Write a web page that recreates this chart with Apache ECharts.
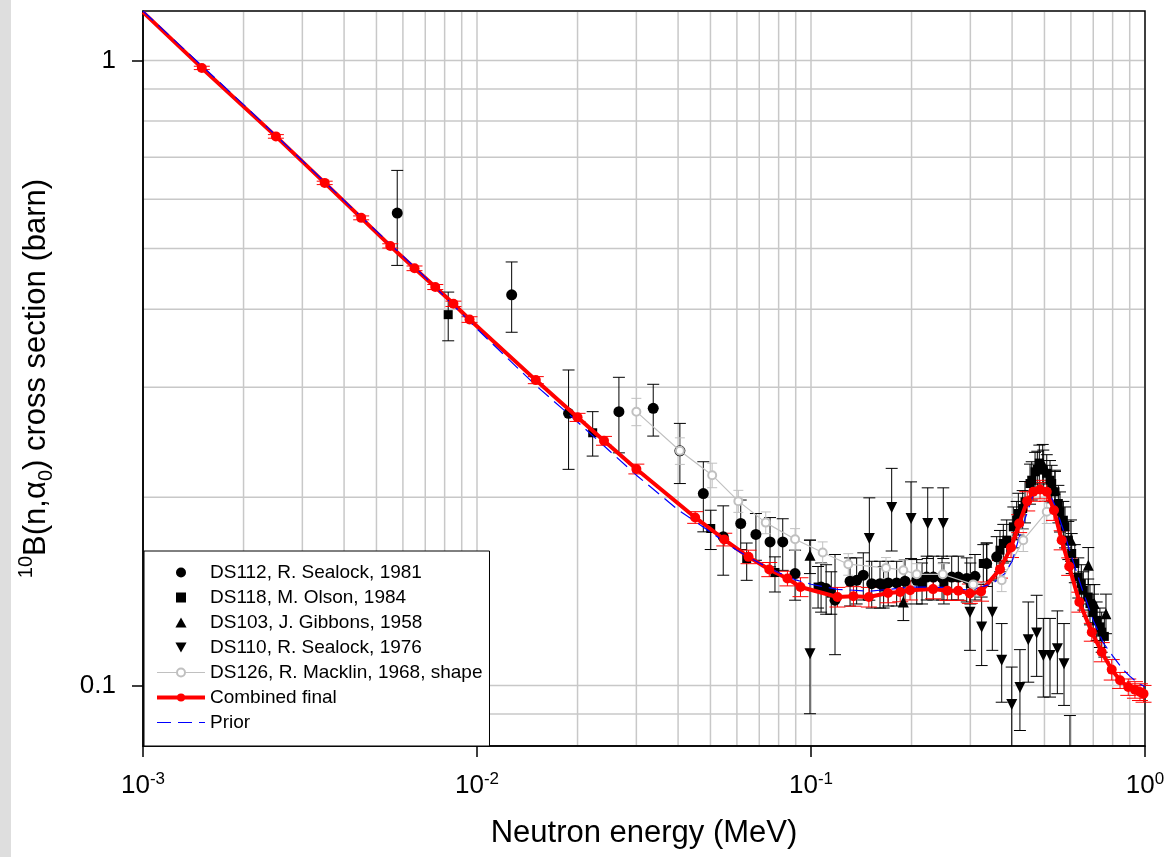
<!DOCTYPE html>
<html>
<head>
<meta charset="utf-8">
<title>10B(n,alpha0) cross section</title>
<script src="https://cdn.jsdelivr.net/npm/echarts@6.0.0/dist/echarts.min.js"></script>
<style>
  html, body { margin: 0; padding: 0; background: #fff; }
  #chart { width: 1169px; height: 857px; }
</style>
</head>
<body>
<div id="chart"></div>
<script>
// axis ranges
var xMin = 0.001, xMax = 1;
var yMin = 0.08, yMax = 1.2;
var font = 'Liberation Sans, Arial, sans-serif';

// DS112, R. Sealock, 1981 (circles)
var e112 = [0.00577, 0.0127, 0.0188, 0.0266, 0.0337, 0.0405, 0.0476, 0.0546, 0.0616, 0.0684, 0.0754, 0.0823, 0.0896, 0.1072, 0.111, 0.118, 0.1309, 0.137, 0.1434, 0.152, 0.1609, 0.1703, 0.1805, 0.1912, 0.2073, 0.222, 0.2324, 0.2468, 0.2638, 0.2761, 0.2926, 0.3097, 0.3357, 0.3597];
var s112 = [0.570, 0.4217, 0.2725, 0.2742, 0.2776, 0.2374, 0.2028, 0.1729, 0.1816, 0.1744, 0.1697, 0.1697, 0.151, 0.1437, 0.1429, 0.1369, 0.1468, 0.1473, 0.1501, 0.1455, 0.1455, 0.1459, 0.1459, 0.1468, 0.1473, 0.1491, 0.1491, 0.1487, 0.1491, 0.1491, 0.1483, 0.1495, 0.1567, 0.1606];
var lo112 = [0.470, 0.3674, 0.2217, 0.2356, 0.2506, 0.2104, 0.1761, 0.1501, 0.165, 0.1586, 0.1548, 0.1528, 0.1369, 0.131, 0.130, 0.112, 0.134, 0.135, 0.137, 0.133, 0.133, 0.134, 0.134, 0.135, 0.135, 0.137, 0.137, 0.137, 0.137, 0.137, 0.136, 0.137, 0.144, 0.148];
var hi112 = [0.667, 0.476, 0.3197, 0.3112, 0.3033, 0.2626, 0.228, 0.1938, 0.198, 0.1884, 0.1856, 0.1848, 0.1646, 0.157, 0.156, 0.162, 0.160, 0.160, 0.163, 0.158, 0.158, 0.158, 0.158, 0.159, 0.159, 0.161, 0.161, 0.161, 0.161, 0.161, 0.160, 0.162, 0.169, 0.173];

// DS118, M. Olson, 1984 (squares)
var e118 = [0.0082, 0.0222, 0.0501, 0.0642, 0.078, 0.105, 0.115, 0.165, 0.215, 0.25, 0.3, 0.328, 0.368, 0.3765, 0.3855, 0.4034, 0.4128, 0.4176, 0.4303, 0.4373, 0.4527, 0.458, 0.4686, 0.476, 0.4826, 0.4961, 0.508, 0.5195, 0.5256, 0.5376, 0.5503, 0.5565, 0.5696, 0.5761, 0.5894, 0.6033, 0.6164, 0.6314, 0.6447, 0.6536, 0.676, 0.6843, 0.6995, 0.7166, 0.7329, 0.7418, 0.7555];
var s118 = [0.392, 0.2537, 0.1783, 0.1596, 0.1516, 0.1437, 0.1405, 0.1437, 0.1455, 0.1459, 0.1455, 0.1567, 0.1646, 0.1687, 0.1708, 0.1794, 0.1838, 0.1884, 0.1919, 0.1967, 0.2104, 0.213, 0.2197, 0.2217, 0.2269, 0.2211, 0.2185, 0.213, 0.2104, 0.2041, 0.1955, 0.1896, 0.1838, 0.1794, 0.1708, 0.1626, 0.1567, 0.1491, 0.1455, 0.142, 0.1385, 0.1352, 0.131, 0.1271, 0.1241, 0.1217, 0.1198];
var lo118 = [0.356, 0.2328, 0.165, 0.1473, 0.1411, 0.133, 0.130, 0.133, 0.135, 0.135, 0.135, 0.145, 0.152, 0.157, 0.158, 0.166, 0.171, 0.174, 0.178, 0.182, 0.195, 0.198, 0.203, 0.206, 0.210, 0.205, 0.203, 0.197, 0.196, 0.189, 0.182, 0.176, 0.171, 0.166, 0.159, 0.151, 0.146, 0.138, 0.135, 0.132, 0.129, 0.125, 0.122, 0.118, 0.115, 0.113, 0.111];
var hi118 = [0.426, 0.2742, 0.1907, 0.169, 0.1606, 0.155, 0.152, 0.155, 0.157, 0.157, 0.157, 0.168, 0.177, 0.181, 0.184, 0.193, 0.197, 0.203, 0.205, 0.212, 0.226, 0.228, 0.236, 0.237, 0.2424, 0.238, 0.234, 0.229, 0.225, 0.220, 0.209, 0.204, 0.197, 0.193, 0.183, 0.175, 0.168, 0.160, 0.156, 0.152, 0.148, 0.145, 0.140, 0.136, 0.133, 0.131, 0.128];

// DS103, J. Gibbons, 1958 (triangles up)
var e103 = [0.0993, 0.189, 0.336, 0.494, 0.5376, 0.6003, 0.6764, 0.7051, 0.7641];
var s103 = [0.1616, 0.136, 0.1575, 0.2265, 0.2059, 0.1708, 0.1557, 0.1352, 0.1302];
var lo103 = [0.151, 0.127, 0.146, 0.211, 0.192, 0.158, 0.145, 0.126, 0.121];
var hi103 = [0.1708, 0.145, 0.169, 0.243, 0.221, 0.184, 0.1662, 0.145, 0.140];

// DS110, R. Sealock, 1976 (triangles down)
var e110 = [0.0993, 0.1495, 0.1744, 0.1993, 0.2236, 0.2489, 0.2992, 0.3243, 0.349, 0.3724, 0.399, 0.4222, 0.4472, 0.4739, 0.4961, 0.5195, 0.5465, 0.5722, 0.596];
var s110 = [0.1124, 0.1718, 0.1927, 0.1849, 0.1816, 0.1816, 0.131, 0.124, 0.131, 0.1097, 0.0932, 0.0992, 0.1183, 0.1213, 0.1117, 0.1117, 0.1145, 0.1083, 0.074];
var lo110 = [0.0901, 0.1369, 0.1641, 0.1596, 0.1596, 0.1596, 0.1138, 0.1076, 0.1138, 0.094, 0.079, 0.0847, 0.1012, 0.1034, 0.0958, 0.0958, 0.097, 0.0929, 0.06];
var hi110 = [0.1708, 0.1996, 0.2225, 0.2117, 0.2071, 0.2071, 0.1464, 0.1385, 0.1473, 0.1256, 0.107, 0.1141, 0.136, 0.1394, 0.128, 0.128, 0.1316, 0.1256, 0.0895];

// DS126, R. Macklin, 1968, shape (grey open circles)
var e126 = [0.03, 0.0405, 0.0506, 0.0606, 0.0732, 0.0896, 0.1084, 0.1293, 0.1677, 0.189, 0.2073, 0.248, 0.306, 0.3724, 0.432, 0.508];
var s126 = [0.2742, 0.2374, 0.217, 0.1972, 0.1822, 0.1714, 0.1632, 0.1563, 0.1542, 0.1529, 0.1506, 0.1506, 0.1451, 0.1473, 0.1708, 0.1896];
var err126 = [0.0138, 0.0116, 0.0098, 0.008, 0.0073, 0.0068, 0.0065, 0.0062, 0.006, 0.006, 0.006, 0.006, 0.006, 0.006, 0.007, 0.008];

// Combined final
var eFin = [0.001, 0.0015, 0.0025, 0.0035, 0.0045, 0.0055, 0.0065, 0.0075, 0.0085, 0.0095, 0.015, 0.02, 0.024, 0.03, 0.045, 0.055, 0.065, 0.075, 0.085, 0.093, 0.12, 0.134, 0.149, 0.17, 0.185, 0.198, 0.232, 0.256, 0.276, 0.299, 0.323, 0.368, 0.397, 0.42, 0.444, 0.463, 0.485, 0.508, 0.534, 0.563, 0.593, 0.636, 0.693, 0.742, 0.795, 0.842, 0.891, 0.933, 0.966, 0.99];
var sFin = [1.195, 0.973, 0.756, 0.637, 0.560, 0.505, 0.465, 0.434, 0.408, 0.385, 0.308, 0.2685, 0.2463, 0.222, 0.1857, 0.1712, 0.1606, 0.1533, 0.1483, 0.1437, 0.1385, 0.1389, 0.1385, 0.1406, 0.1411, 0.142, 0.1426, 0.1418, 0.1418, 0.1403, 0.1414, 0.1535, 0.1662, 0.1816, 0.1972, 0.2041, 0.2059, 0.2041, 0.1907, 0.1708, 0.155, 0.136, 0.1217, 0.1131, 0.106, 0.1019, 0.0994, 0.0984, 0.0976, 0.097];
var errFin = [0, 0.006, 0.005, 0.004, 0.004, 0.004, 0.004, 0.004, 0.004, 0.004,
              0.004, 0.004, 0.004, 0.004, 0.004, 0.004, 0.004, 0.004, 0.004, 0.005,
              0.005, 0.005, 0.005, 0.005, 0.005, 0.005, 0.005, 0.005, 0.005, 0.005,
              0.005, 0.005, 0.006, 0.006, 0.007, 0.007, 0.007, 0.007, 0.007, 0.006,
              0.005, 0.005, 0.004, 0.004, 0.004, 0.003, 0.003, 0.003, 0.003, 0.003];

// Prior
var ePrior = [0.001, 0.002, 0.004, 0.007, 0.01, 0.015, 0.02, 0.03, 0.04, 0.05, 0.06, 0.07, 0.08, 0.09, 0.1, 0.12, 0.15, 0.2, 0.25, 0.3, 0.35, 0.38, 0.4, 0.43, 0.46, 0.48, 0.51, 0.54, 0.57, 0.6, 0.65, 0.7, 0.75, 0.8, 0.86, 0.9, 0.95, 1.0];
var sPrior = [1.2, 0.85, 0.597, 0.45, 0.372, 0.302, 0.264, 0.217, 0.191, 0.176, 0.1645, 0.157, 0.1515, 0.1475, 0.1452, 0.1425, 0.1415, 0.1437, 0.1435, 0.142, 0.1455, 0.151, 0.158, 0.18, 0.2, 0.2075, 0.207, 0.193, 0.177, 0.162, 0.142, 0.127, 0.117, 0.1115, 0.106, 0.1035, 0.101, 0.0995];

// tick labels / grid lines
var xTickExp = { 0.001: '-3', 0.01: '-2', 0.1: '-1', 1: '0' };
var yLabels = [0.1, 1];
var xGrid = [0.002, 0.003, 0.004, 0.005, 0.006, 0.007, 0.008, 0.009, 0.01, 0.02, 0.03, 0.04, 0.05, 0.06, 0.07, 0.08, 0.09, 0.1, 0.2, 0.3, 0.4, 0.5, 0.6, 0.7, 0.8, 0.9];
var yGrid = [0.09, 0.1, 0.2, 0.3, 0.4, 0.5, 0.6, 0.7, 0.8, 0.9, 1];

var names = ['DS112, R. Sealock, 1981', 'DS118, M. Olson, 1984', 'DS103, J. Gibbons, 1958',
             'DS110, R. Sealock, 1976', 'DS126, R. Macklin, 1968, shape', 'Combined final', 'Prior'];

function pairs(a, b) {
  return a.map(function (v, i) { return [v, b[i]]; });
}
function bars(e, lo, hi) {
  return e.map(function (v, i) { return [v, lo[i], hi[i]]; });
}

// error bars drawn through the axis scales
function errorBars(id, data, color, cap) {
  return {
    type: 'custom',
    name: id,
    silent: true,
    data: data,
    encode: { x: 0, y: [1, 2] },
    renderItem: function (params, api) {
      var e = api.value(0), lo = api.value(1), hi = api.value(2);
      if (!(hi > lo)) return null;
      var clo = Math.max(lo, yMin), chi = Math.min(hi, yMax);
      var top = api.coord([e, chi]), bot = api.coord([e, clo]);
      var st = { stroke: color, lineWidth: 1 };
      var kids = [{ type: 'line', shape: { x1: top[0], y1: top[1], x2: bot[0], y2: bot[1] }, style: st }];
      if (chi === hi) kids.push({ type: 'line', shape: { x1: top[0] - cap, y1: top[1], x2: top[0] + cap, y2: top[1] }, style: st });
      if (clo === lo) kids.push({ type: 'line', shape: { x1: bot[0] - cap, y1: bot[1], x2: bot[0] + cap, y2: bot[1] }, style: st });
      return { type: 'group', children: kids };
    }
  };
}

function gridLines(vals, vertical) {
  return {
    type: 'custom',
    name: vertical ? 'xgrid' : 'ygrid',
    silent: true,
    data: vals.map(function (v) { return vertical ? [v, 0.1] : [0.01, v]; }),
    renderItem: function (params, api) {
      var cs = params.coordSys;
      var p = api.coord([api.value(0), api.value(1)]);
      var shape = vertical
        ? { x1: p[0], y1: cs.y + 1, x2: p[0], y2: cs.y + cs.height - 1 }
        : { x1: cs.x + 1, y1: p[1], x2: cs.x + cs.width - 1, y2: p[1] };
      return { type: 'line', shape: shape, style: { stroke: '#c8c8c8', lineWidth: 1.5 } };
    }
  };
}

var redLo = sFin.map(function (v, i) { return v - errFin[i]; });
var redHi = sFin.map(function (v, i) { return v + errFin[i]; });
var grLo = s126.map(function (v, i) { return v - err126[i]; });
var grHi = s126.map(function (v, i) { return v + err126[i]; });

var blackDot = { color: '#000', opacity: 1 };
var symSquare = 'path://M0,0H10V10H0Z';
var symUp = 'path://M5,0L10,9L0,9Z';
var symDown = 'path://M0,0L10,0L5,9Z';

var chart = echarts.init(document.getElementById('chart'));
var option = {
  animation: false,
  backgroundColor: '#fff',
  textStyle: { fontFamily: font },
  graphic: [{
    type: 'rect', left: 0, top: 0, z: -10,
    shape: { width: 11, height: 857 },
    style: { fill: '#dedede' }
  }],
  grid: {
    left: 143, top: 11, right: 24, bottom: 111,
    show: true, borderColor: '#000', borderWidth: 1.5, backgroundColor: 'transparent'
  },
  legend: {
    data: [
      { name: names[0] }, { name: names[1] }, { name: names[2] }, { name: names[3] },
      { name: names[4] }, { name: names[5] },
      { name: names[6], itemStyle: { color: 'rgba(0,0,0,0)', borderColor: 'rgba(0,0,0,0)' } }
    ],
    orient: 'vertical',
    left: 144, top: 551,
    padding: [12, 7, 14, 11],
    itemGap: 6,
    itemWidth: 48,
    itemHeight: 10,
    symbolKeepAspect: true,
    lineStyle: { width: 'inherit' },
    backgroundColor: '#fff',
    borderColor: '#000',
    borderWidth: 1,
    selectedMode: false,
    textStyle: { fontSize: 19, color: '#000', fontFamily: font }
  },
  xAxis: {
    type: 'log', logBase: 10, min: xMin, max: xMax,
    name: 'Neutron energy (MeV)',
    nameLocation: 'middle', nameGap: 72,
    nameTextStyle: { fontSize: 31, color: '#000', fontFamily: font },
    axisLine: { lineStyle: { color: '#000', width: 1.5 } },
    axisTick: { show: true, inside: false, length: 11, lineStyle: { color: '#000', width: 1.5 } },
    splitLine: { show: false },
    axisLabel: {
      margin: 25,
      color: '#000',
      formatter: function (v) {
        var k = xTickExp[+v.toPrecision(3)];
        return k === undefined ? '' : '{b|10}{s|' + k + '}';
      },
      rich: {
        b: { fontSize: 26, lineHeight: 30, fontFamily: font, color: '#000' },
        s: { fontSize: 17, lineHeight: 17, verticalAlign: 'top', fontFamily: font, color: '#000' }
      }
    }
  },
  yAxis: {
    type: 'log', logBase: 10, min: yMin, max: yMax,
    name: '{sup|10}B(n,\u03b1{sub|0}) cross section (barn)',
    nameLocation: 'middle', nameGap: 87, nameRotate: 90,
    nameTextStyle: {
      fontSize: 31, color: '#000', fontFamily: font, lineHeight: 40,
      rich: {
        sup: { fontSize: 20, lineHeight: 20, verticalAlign: 'top', fontFamily: font, color: '#000' },
        sub: { fontSize: 20, lineHeight: 20, verticalAlign: 'bottom', fontFamily: font, color: '#000' }
      }
    },
    axisLine: { lineStyle: { color: '#000', width: 1.5 } },
    axisTick: { show: true, inside: false, length: 11, customValues: yLabels, lineStyle: { color: '#000', width: 1.5 } },
    splitLine: { show: false },
    axisLabel: {
      margin: 27, fontSize: 26, color: '#000', fontFamily: font,
      customValues: yLabels,
      formatter: function (v) { return String(+v.toPrecision(3)); }
    }
  },
  series: [
    gridLines(xGrid, true),
    gridLines(yGrid, false),
    errorBars('err112', bars(e112, lo112, hi112), '#000', 6),
    errorBars('err118', bars(e118, lo118, hi118), '#000', 6),
    errorBars('err103', bars(e103, lo103, hi103), '#000', 6),
    errorBars('err110', bars(e110, lo110, hi110), '#000', 6),
    {
      name: names[0], type: 'scatter', data: pairs(e112, s112),
      symbol: 'circle', symbolSize: 11, itemStyle: blackDot, silent: true
    },
    {
      name: names[1], type: 'scatter', data: pairs(e118, s118),
      symbol: symSquare, symbolSize: 9, itemStyle: blackDot, silent: true
    },
    {
      name: names[2], type: 'scatter', data: pairs(e103, s103),
      symbol: symUp, symbolSize: 11, itemStyle: blackDot, silent: true
    },
    {
      name: names[3], type: 'scatter', data: pairs(e110, s110), clip: true,
      symbol: symDown, symbolSize: 11, itemStyle: blackDot, silent: true
    },
    errorBars('err126', bars(e126, grLo, grHi), '#c0c0c0', 5),
    {
      name: names[4], type: 'line', data: pairs(e126, s126),
      symbol: 'emptyCircle', symbolSize: 8,
      lineStyle: { color: '#c0c0c0', width: 1.2 },
      itemStyle: { color: '#c0c0c0', borderWidth: 2 }, silent: true
    },
    errorBars('errFin', bars(eFin, redLo, redHi), '#ff0000', 8),
    {
      name: names[5], type: 'line', data: pairs(eFin, sFin),
      symbol: 'circle',
      symbolSize: function (v, p) { return p.dataIndex === 0 ? 0 : 10; },
      lineStyle: { color: '#ff0000', width: 4 },
      itemStyle: { color: '#ff0000' }, silent: true
    },
    {
      name: names[6], type: 'line', data: pairs(ePrior, sPrior),
      symbol: 'none',
      lineStyle: { color: '#0000ff', width: 1.2, type: [14, 7] },
      itemStyle: { color: '#0000ff' }, silent: true
    }
  ]
};
chart.setOption(option);
</script>
</body>
</html>
